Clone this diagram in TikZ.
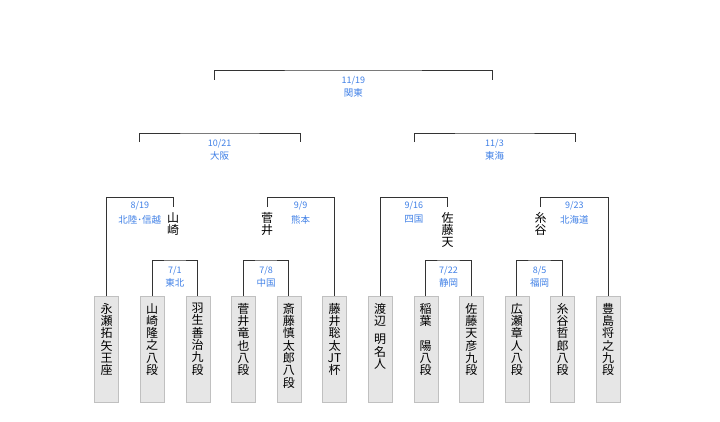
\documentclass[tikz,border=0pt]{standalone}
\usepackage{fontspec}
\setmainfont{Noto Sans CJK JP}

\definecolor{wiregray}{RGB}{51,51,51}
\definecolor{boxedge}{RGB}{192,192,192}
\definecolor{boxfill}{RGB}{230,230,230}
\definecolor{dateblue}{RGB}{64,128,230}

\tikzset{
  wire/.style={draw=wiregray, line width=1pt},
  plbox/.style={draw=boxedge, fill=boxfill, minimum width=24pt, minimum height=106pt, inner sep=0pt, anchor=north},
  plname/.style={anchor=north, inner sep=0pt, align=center, font=\fontsize{12}{12.3}\selectfont},
  winner/.style={anchor=north, inner xsep=0pt, inner ysep=5pt, align=center, font=\fontsize{12}{12.3}\selectfont},
  datelbl/.style={text=dateblue, inner sep=0pt, font=\fontsize{9}{9}\selectfont},
  arealbl/.style={text=dateblue, inner sep=0pt, font=\fontsize{9.5}{9.5}\selectfont},
}

\begin{document}
\begin{tikzpicture}[x=1pt, y=-1pt]
  \useasboundingbox (0,0) rectangle (720,421);

  % Players:
  \node[plbox] (b1) at (106.5,296) {};
  \node[plbox] (b2) at (152.1,296) {};
  \node[plbox] (b3) at (197.7,296) {};
  \node[plbox] (b4) at (243.3,296) {};
  \node[plbox] (b5) at (288.9,296) {};
  \node[plbox] (b6) at (334.5,296) {};
  \node[plbox] (b7) at (380.1,296) {};
  \node[plbox] (b8) at (425.7,296) {};
  \node[plbox] (b9) at (471.3,296) {};
  \node[plbox] (b10) at (516.9,296) {};
  \node[plbox] (b11) at (562.5,296) {};
  \node[plbox] (b12) at (608.1,296) {};
  \node[plname] (n1) at ([yshift=-7pt]b1.north) {永\\瀬\\拓\\矢\\王\\座};
  \node[plname] (n2) at ([yshift=-7pt]b2.north) {山\\崎\\隆\\之\\八\\段};
  \node[plname] (n3) at ([yshift=-7pt]b3.north) {羽\\生\\善\\治\\九\\段};
  \node[plname] (n4) at ([yshift=-7pt]b4.north) {菅\\井\\竜\\也\\八\\段};
  \node[plname] (n5) at ([yshift=-7pt]b5.north) {斎\\藤\\慎\\太\\郎\\八\\段};
  \node[plname] (n6) at ([yshift=-7pt]b6.north) {藤\\井\\聡\\太\\JT\\杯};
  \node[plname] (n7) at ([yshift=-7pt]b7.north) {渡\\辺\\[6pt]明\\名\\人};
  \node[plname] (n8) at ([yshift=-7pt]b8.north) {稲\\葉\\[12.3pt]陽\\八\\段};
  \node[plname] (n9) at ([yshift=-7pt]b9.north) {佐\\藤\\天\\彦\\九\\段};
  \node[plname] (n10) at ([yshift=-7pt]b10.north) {広\\瀬\\章\\人\\八\\段};
  \node[plname] (n11) at ([yshift=-7pt]b11.north) {糸\\谷\\哲\\郎\\八\\段};
  \node[plname] (n12) at ([yshift=-7pt]b12.north) {豊\\島\\将\\之\\九\\段};

  % Winners so far:
  \node[winner] (w1) at (173,207) {山\\崎};
  \node[winner] (w2) at (267,207) {菅\\井};
  \node[winner] (w3) at (447.5,207) {佐\\藤\\天};
  \node[winner] (w4) at (540.5,207) {糸\\谷};

  % Round 1:
  \coordinate (r71) at (174.9,260);
  \coordinate (r78) at (266.1,260);
  \coordinate (r722) at (448.5,260);
  \coordinate (r85) at (539.7,260);
  \draw[wire] (b2.north) |- (r71) -| (b3.north);
  \draw[wire] (b4.north) |- (r78) -| (b5.north);
  \draw[wire] (b8.north) |- (r722) -| (b9.north);
  \draw[wire] (b10.north) |- (r85) -| (b11.north);
  \node[datelbl] (d71) at (174.9,270.5) {7/1};
  \node[arealbl] (a71) at (174.9,282.5) {東北};
  \node[datelbl] (d78) at (266.1,270.5) {7/8};
  \node[arealbl] (a78) at (266.1,282.5) {中国};
  \node[datelbl] (d722) at (448.5,270.5) {7/22};
  \node[arealbl] (a722) at (448.5,282.5) {静岡};
  \node[datelbl] (d85) at (539.7,270.5) {8/5};
  \node[arealbl] (a85) at (539.7,282.5) {福岡};

  % Round 2:
  \coordinate (r819) at (139.8,197.5);
  \coordinate (r99) at (300.7,197.5);
  \coordinate (r916) at (413.8,197.5);
  \coordinate (r923) at (574.3,197.5);
  \draw[wire] (b1.north) |- (r819) -| (w1.north);
  \draw[wire] (w2.north) |- (r99) -| (b6.north);
  \draw[wire] (b7.north) |- (r916) -| (w3.north);
  \draw[wire] (w4.north) |- (r923) -| (b12.north);
  \node[datelbl] (d819) at (139.8,206) {8/19};
  \node[arealbl] (a819) at (139.8,219.5) {北陸･信越};
  \node[datelbl] (d99) at (300.7,206) {9/9};
  \node[arealbl] (a99) at (300.7,219.5) {熊本};
  \node[datelbl] (d916) at (413.8,206) {9/16};
  \node[arealbl] (a916) at (413.8,219.5) {四国};
  \node[datelbl] (d923) at (574.3,206) {9/23};
  \node[arealbl] (a923) at (574.3,219.5) {北海道};

  % Semi-finals:
  \coordinate (s1) at (139,142);
  \coordinate (s2) at (300.5,142);
  \coordinate (s3) at (414,142);
  \coordinate (s4) at (575,142);
  \coordinate (r1021) at (219.7,133);
  \coordinate (r113) at (494.5,133);
  \draw[wire] (s1) |- (r1021) -| (s2);
  \draw[wire] (s3) |- (r113) -| (s4);
  \node[datelbl] (d1021) at (219.7,143.5) {10/21};
  \node[arealbl] (a1021) at (219.7,156) {大阪};
  \node[datelbl] (d113) at (494.5,143.5) {11/3};
  \node[arealbl] (a113) at (494.5,156) {東海};

  % Final:
  \coordinate (f1) at (214.3,79.5);
  \coordinate (f2) at (492.3,79.5);
  \coordinate (r1119) at (353.3,70);
  \draw[wire] (f1) |- (r1119) -| (f2);
  \node[datelbl] (d1119) at (353.3,81) {11/19};
  \node[arealbl] (a1119) at (353.3,93) {関東};
\end{tikzpicture}
\end{document}
